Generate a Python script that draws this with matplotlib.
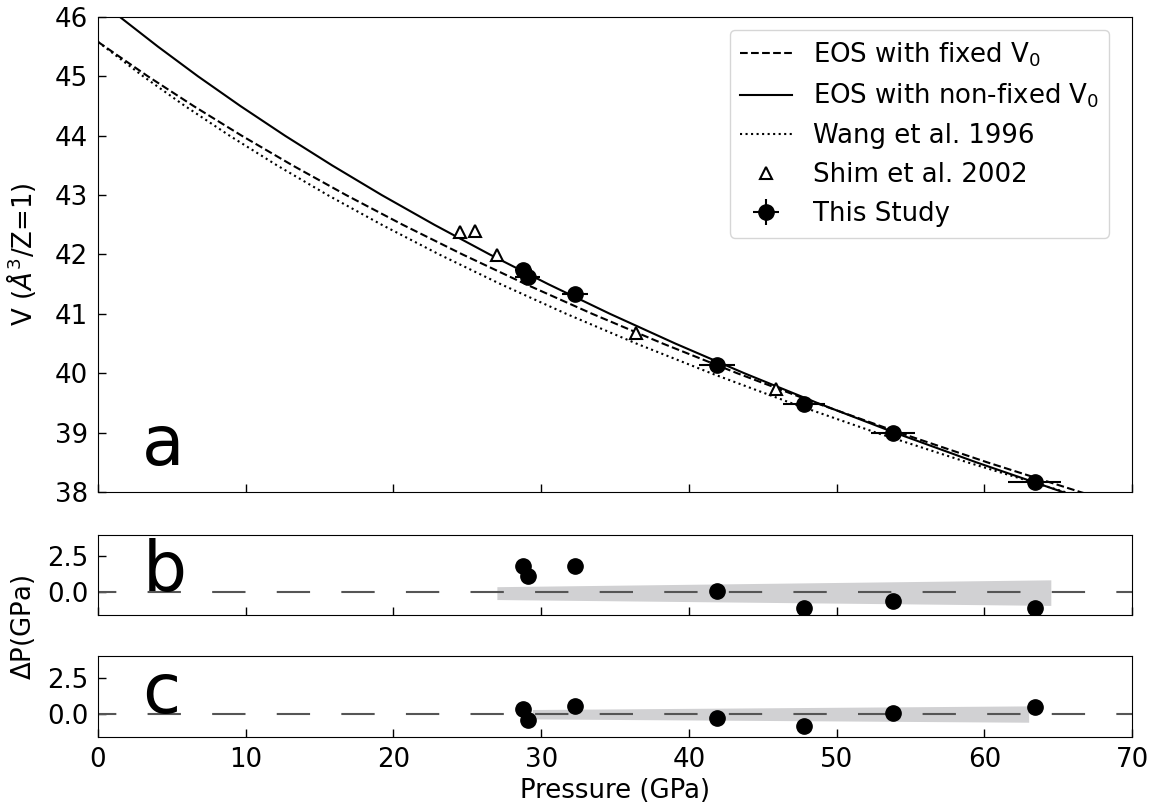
import numpy as np
import matplotlib
matplotlib.use('Agg')
import matplotlib.pyplot as plt

# EOS curves (pressure in GPa, volume in A^3 per Z=1)
fixed_v = [45.58, 45.0, 44.5, 44.0, 43.5, 43.0, 42.5, 42.0, 41.5, 41.0,
           40.5, 40.0, 39.5, 39.0, 38.5, 38.0, 37.8]
fixed_p = [0.0, 3.38, 6.47, 9.73, 13.17, 16.80, 20.63, 24.68, 28.95, 33.46,
           38.23, 43.27, 48.59, 54.23, 60.19, 66.49, 69.2]

nonfixed_v = [46.3, 46.0, 45.5, 45.0, 44.5, 44.0, 43.5, 43.0, 42.5, 42.0, 41.5,
              41.0, 40.5, 40.0, 39.5, 39.0, 38.5, 38.0, 37.8]
nonfixed_p = [0.0, 1.48, 4.06, 6.77, 9.64, 12.66, 15.85, 19.21, 22.77, 26.52, 30.48,
              34.66, 39.08, 43.75, 48.69, 53.92, 59.45, 65.3, 67.7]

wang_v = [45.58, 45.0, 44.5, 44.0, 43.5, 43.0, 42.5, 42.0, 41.5, 41.0,
          40.5, 40.0, 39.5, 39.0, 38.5, 38.0, 37.8]
wang_p = [0.0, 3.06, 5.89, 8.91, 12.12, 15.55, 19.21, 23.1, 27.26, 31.7,
          36.44, 41.5, 46.90, 52.67, 58.85, 65.45, 68.2]

# Shim et al. 2002
shim_p = [24.5, 25.5, 27.0, 36.4, 45.9]
shim_v = [42.38, 42.40, 41.99, 40.68, 39.74]

# this study
study_p = [28.8, 29.1, 32.3, 41.9, 47.8, 53.8, 63.4]
study_v = [41.74, 41.62, 41.34, 40.14, 39.48, 39.00, 38.16]
study_perr = [0.6, 0.85, 0.9, 1.2, 1.4, 1.5, 1.8]
study_verr = [0.03, 0.03, 0.03, 0.03, 0.03, 0.03, 0.03]

# residuals
dp_fixed = [1.86, 1.14, 1.86, 0.07, -1.10, -0.64, -1.12]
dp_nonfixed = [0.35, -0.40, 0.53, -0.28, -0.81, 0.07, 0.49]

band_b_p = [27.0, 64.5]
band_b_lo = [-0.52, -0.93]
band_b_hi = [0.38, 0.86]

band_c_p = [29.4, 63.0]
band_c_lo = [-0.35, -0.58]
band_c_hi = [0.30, 0.55]

zero_p = [-1, 71]
zero_v = [0, 0]

FS = 18.7
plt.rcParams['font.size'] = FS

fig = plt.figure(figsize=(11.56, 8.08), dpi=100)
ax_a = fig.add_axes([0.0848, 0.3911, 0.8945, 0.5879])
ax_b = fig.add_axes([0.0848, 0.2389, 0.8945, 0.0990])
ax_c = fig.add_axes([0.0848, 0.0879, 0.8945, 0.1002])

ax_a.plot(fixed_p, fixed_v, '--', color='black', lw=1.5, label='EOS with fixed V$_0$')
ax_a.plot(nonfixed_p, nonfixed_v, '-', color='black', lw=1.5, label='EOS with non-fixed V$_0$')
ax_a.plot(wang_p, wang_v, ':', color='black', lw=1.5, label='Wang et al. 1996')
ax_a.plot(shim_p, shim_v, '^', ms=8, mfc='white', mec='black', mew=1.5,
          linestyle='none', label='Shim et al. 2002')
ax_a.errorbar(study_p, study_v, xerr=study_perr, yerr=study_verr, fmt='o',
              color='black', ms=11, elinewidth=1.5, capsize=0, label='This Study')

ax_a.set_xlim(0, 70)
ax_a.set_ylim(38, 46)
ax_a.set_yticks(np.arange(38, 47, 1))
ax_a.set_xticks(np.arange(0, 71, 10))
ax_a.tick_params(direction='in', length=6, width=1, pad=7, labelbottom=False)
ax_a.set_ylabel(r'V ($\AA^3$/Z=1)')
ax_a.yaxis.set_label_coords(-0.058, 0.5)
ax_a.text(3.0, 38.45, 'a', fontsize=50, va='baseline')
ax_a.legend(loc='upper right', bbox_to_anchor=(0.978, 0.973), borderaxespad=0,
            fontsize=FS)

for ax, dp, bp, lo, hi, letter in [(ax_b, dp_fixed, band_b_p, band_b_lo, band_b_hi, 'b'),
                                    (ax_c, dp_nonfixed, band_c_p, band_c_lo, band_c_hi, 'c')]:
    ax.fill_between(bp, lo, hi, color='#d1d1d3', lw=0, zorder=1)
    ax.plot(zero_p, zero_v, color='#555555', lw=1.5, dashes=(16, 15), zorder=2)
    ax.plot(study_p, dp, 'o', color='black', ms=11, zorder=3)
    ax.set_xlim(0, 70)
    ax.set_ylim(-1.6, 4.0)
    ax.set_yticks([0, 2.5])
    ax.set_yticklabels(['0.0', '2.5'])
    ax.set_xticks(np.arange(0, 71, 10))
    ax.tick_params(direction='in', length=6, width=1, pad=7)
    ax.text(3.0, 0.05, letter, fontsize=50, va='baseline')

ax_b.tick_params(labelbottom=False)
ax_c.set_xlabel('Pressure (GPa)')
fig.text(0.02, 0.224, r'$\Delta$P(GPa)', rotation=90, ha='center', va='center')

fig.savefig('out.png', dpi=100)
